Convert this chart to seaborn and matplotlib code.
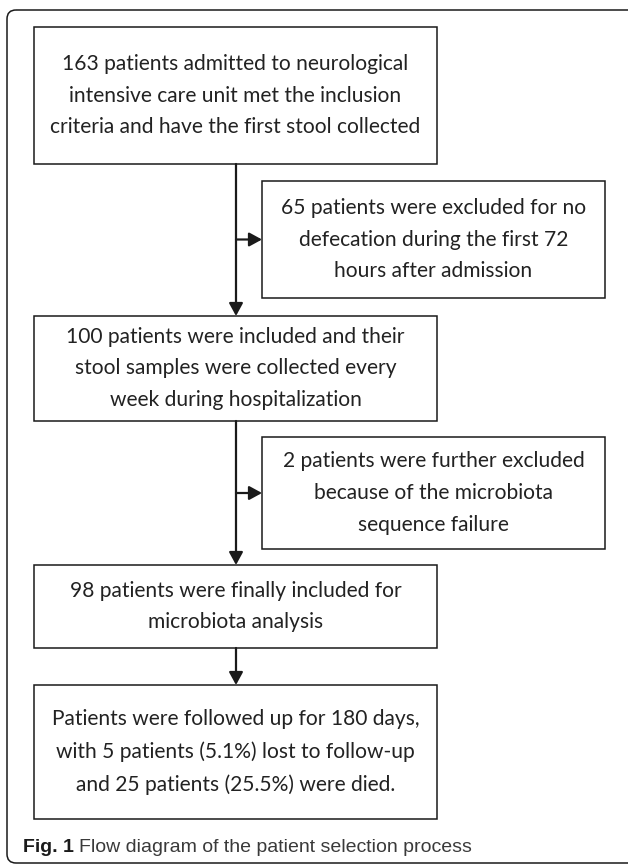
import seaborn as sns
import matplotlib.pyplot as plt
from matplotlib.patches import FancyBboxPatch, Rectangle

# flow diagram contents
main_steps = [
    "163 patients admitted to neurological\nintensive care unit met the inclusion\ncriteria and have the first stool collected",
    "100 patients were included and their\nstool samples were collected every\nweek during hospitalization",
    "98 patients were finally included for\nmicrobiota analysis",
    "Patients were followed up for 180 days,\nwith 5 patients (5.1%) lost to follow-up\nand 25 patients (25.5%) were died.",
]
exclusions = [
    "65 patients were excluded for no\ndefecation during the first 72\nhours after admission",
    "2 patients were further excluded\nbecause of the microbiota\nsequence failure",
]
caption_bold = "Fig. 1"
caption_text = "Flow diagram of the patient selection process"

# box geometry in pixels (top, bottom)
main_y = [(27, 164), (316, 421), (565, 648), (685, 819)]
excl_y = [(181, 298), (437, 549)]
main_x = (34, 437)
excl_x = (262, 605)
stem_x = 236

sns.set_theme(style="white")
plt.rcParams['font.family'] = ['Lato', 'DejaVu Sans']

fig = plt.figure(figsize=(6.28, 8.66), dpi=100)
ax = fig.add_axes([0, 0, 1, 1])
ax.set_xlim(0, 628)
ax.set_ylim(866, 0)
ax.axis('off')

line_col = '#1a1a1a'
text_col = '#222222'

# outer frame: left/top/bottom sides only, right side is cut off in the figure
frame = FancyBboxPatch((7, 10), 632, 853, boxstyle="round,pad=0,rounding_size=9",
                       fill=False, ec=line_col, lw=1.1, clip_on=True)
ax.add_patch(frame)
frame.set_clip_box(ax.bbox)


def draw_box(x0, x1, y0, y1, text):
    ax.add_patch(Rectangle((x0, y0), x1 - x0, y1 - y0, fill=False, ec=line_col, lw=1.1))
    ax.text((x0 + x1) / 2, (y0 + y1) / 2, text, ha='center', va='center',
            fontsize=15.1, color=text_col, linespacing=1.74)


def arrow(x0, y0, x1, y1):
    ax.annotate("", xy=(x1, y1), xytext=(x0, y0),
                arrowprops=dict(arrowstyle='-|>,head_length=0.55,head_width=0.3',
                                color=line_col, lw=1.6, shrinkA=0, shrinkB=0,
                                mutation_scale=14))


for (y0, y1), txt in zip(main_y, main_steps):
    draw_box(main_x[0], main_x[1], y0, y1, txt)
for (y0, y1), txt in zip(excl_y, exclusions):
    draw_box(excl_x[0], excl_x[1], y0, y1, txt)

# vertical arrows between main steps
for i in range(len(main_y) - 1):
    arrow(stem_x, main_y[i][1], stem_x, main_y[i + 1][0])

# side arrows into exclusion boxes
for y0, y1 in excl_y:
    arrow(stem_x, (y0 + y1) / 2, excl_x[0], (y0 + y1) / 2)

# caption
t = ax.text(23, 847, caption_bold, ha='left', va='center', fontsize=14,
            fontweight='bold', color='#1a1a1a', family='Liberation Sans')
fig.canvas.draw()
bb = t.get_window_extent()
x_end = ax.transData.inverted().transform((bb.x1, bb.y0))[0]
ax.text(x_end + 5, 847, caption_text, ha='left', va='center', fontsize=14,
        color='#3a3a3a', family='Liberation Sans')

fig.savefig("out.png", dpi=100)
